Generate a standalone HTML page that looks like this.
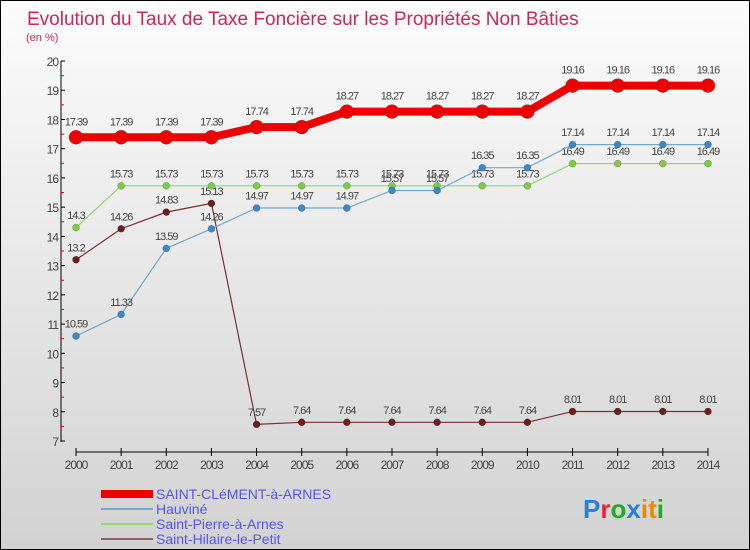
<!DOCTYPE html>
<html><head><meta charset="utf-8"><style>
body{margin:0}
#c{width:748px;height:548px;border:1px solid #000;background:linear-gradient(#fcfcfc,#d2d2d2);position:relative;font-family:"Liberation Sans",sans-serif;overflow:hidden}
text{font-family:"Liberation Sans",sans-serif}
</style></head><body>
<div id="c">
<svg id="s" width="748" height="548">
<text x="26" y="24" font-size="19" fill="#c8285a">Evolution du Taux de Taxe Foncière sur les Propriétés Non Bâties</text>
<text x="25" y="40" font-size="11" fill="#c8285a">(en %)</text>
<g id="axes"></g><g id="series"></g>
<g>
<rect x="100" y="489" width="52" height="8" fill="#e00"/>
<text x="155" y="498" font-size="14" fill="#5555ee">SAINT-CLéMENT-à-ARNES</text>
<rect x="100" y="507" width="52" height="2" fill="#6fa8d0"/>
<text x="155" y="513" font-size="14" fill="#5555ee">Hauviné</text>
<rect x="100" y="522" width="52" height="2" fill="#90d870"/>
<text x="155" y="528" font-size="14" fill="#5555ee">Saint-Pierre-à-Arnes</text>
<rect x="100" y="537" width="52" height="2" fill="#8a6060"/>
<text x="155" y="543" font-size="14" fill="#5555ee">Saint-Hilaire-le-Petit</text>
</g>
<text x="582" y="517" font-size="26" font-weight="bold"><tspan fill="#2a7fd0">P</tspan><tspan fill="#e23">r</tspan><tspan fill="#2a2">o</tspan><tspan fill="#2a7fd0">x</tspan><tspan fill="#e80">i</tspan><tspan fill="#e80">t</tspan><tspan fill="#2a2">i</tspan></text>
</svg></div>
<script>
const years=[2000,2001,2002,2003,2004,2005,2006,2007,2008,2009,2010,2011,2012,2013,2014];
const yTicks=[7,8,9,10,11,12,13,14,15,16,17,18,19,20];
const stClement=[17.39,17.39,17.39,17.39,17.74,17.74,18.27,18.27,18.27,18.27,18.27,19.16,19.16,19.16,19.16];
const hauvine=[10.59,11.33,13.59,14.26,14.97,14.97,14.97,15.57,15.57,16.35,16.35,17.14,17.14,17.14,17.14];
const stPierre=[14.3,15.73,15.73,15.73,15.73,15.73,15.73,15.73,15.73,15.73,15.73,16.49,16.49,16.49,16.49];
const stHilaire=[13.2,14.26,14.83,15.13,7.57,7.64,7.64,7.64,7.64,7.64,7.64,8.01,8.01,8.01,8.01];
const NS="http://www.w3.org/2000/svg";
const X=i=>75+i*45.14, Y=v=>440-(v-7)*29.23;
function mk(t,a,p){const e=document.createElementNS(NS,t);for(const k in a)e.setAttribute(k,a[k]);p.appendChild(e);return e;}
const ax=document.getElementById('axes'),sg=document.getElementById('series');
let l=mk('line',{x1:60,y1:60,x2:60,y2:441,stroke:'#000','stroke-width':1},ax);

yTicks.forEach(v=>{const y=Y(v);
 mk('line',{x1:60,y1:y,x2:64,y2:y,stroke:'#000'},ax);
 if(v<20)mk('line',{x1:60,y1:y-14.6,x2:63,y2:y-14.6,stroke:'#e00'},ax);
 const t=mk('text',{x:57,y:y+5,'font-size':12,fill:'#444','text-anchor':'end','letter-spacing':'-1'},ax);t.textContent=v;
 });
l=mk('line',{x1:75,y1:451,x2:707,y2:451,stroke:'#000'},ax);

years.forEach((yr,i)=>{mk('line',{x1:X(i),y1:447,x2:X(i),y2:455,stroke:'#000'},ax);
 const t=mk('text',{x:X(i),y:468,'font-size':12,fill:'#444','text-anchor':'middle','letter-spacing':'-1'},ax);t.textContent=yr;
 });
function draw(data,color,dot,w,r,name){
 const g=mk('g',{},sg);
 
 mk('polyline',{points:data.map((v,i)=>X(i)+','+Y(v)).join(' '),fill:'none',stroke:color,'stroke-width':w},g);
 data.forEach((v,i)=>{const c=mk('circle',{cx:X(i),cy:Y(v),r:r,fill:dot,stroke:'rgba(0,0,0,0.3)','stroke-width':0.5},g);
  
  const t=mk('text',{x:X(i),y:Y(v)-(r+5),'font-size':11,fill:'#444','text-anchor':'middle','letter-spacing':'-1'},g);t.textContent=v;
  });
}
draw(stHilaire,'#7a3030','#6a1e1e',1.2,3.5,'saint-hilaire');
draw(stPierre,'#90d870','#7acc40',1.2,3.5,'saint-pierre');
draw(hauvine,'#6fa8d0','#3a88c8',1.2,3.5,'hauvine');
draw(stClement,'#e00','#e00',8,7,'saint-clement');
</script>
</body></html>
